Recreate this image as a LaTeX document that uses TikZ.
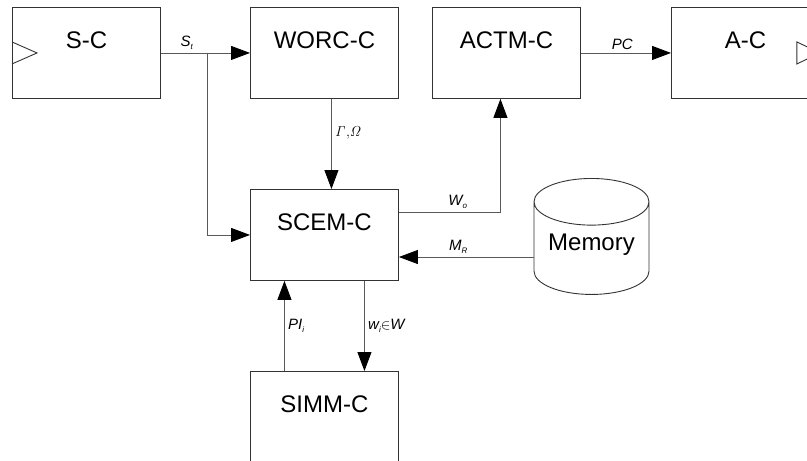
\documentclass[tikz,border=0pt]{standalone}
\usepackage[no-math]{fontspec}
\newfontfamily\arialfont{Liberation Sans}
\usetikzlibrary{positioning}
\usetikzlibrary{shapes.geometric}
\usetikzlibrary{arrows.meta}
\usetikzlibrary{calc}

% small lowered index for the signal names
\newcommand{\lsub}[1]{\raisebox{-3pt}{\fontsize{8}{8}\selectfont #1}}

\tikzset{
    block/.style={rectangle, draw=black!80, line width=0.9pt,
        minimum width=148pt, text height=41pt, text depth=50pt, inner ysep=0pt,
        font=\arialfont\fontsize{24}{24}\selectfont},
    store/.style={cylinder, shape border rotate=90, aspect=0.5, draw=black!80,
        line width=0.9pt, minimum width=115pt, minimum height=116pt,
        text height=17.5pt, text depth=21pt,
        font=\arialfont\fontsize{24}{24}\selectfont},
    link/.style={draw=black!65, line width=0.9pt},
    tip/.style={-{Triangle[length=19pt,width=14pt,color=black]}},
    lbl/.style={font=\arialfont\itshape\fontsize{15}{15}\selectfont, text=black}
}

\begin{document}
\begin{tikzpicture}[x=1pt,y=-1pt]
    \useasboundingbox (0,0) rectangle (807,461);

    % the controller blocks
    \node[block,anchor=north west] (sc) at (12,7) {S-C};
    \node[block,anchor=north west] (worc) at (250,7) {WORC-C};
    \node[block,anchor=north west] (actm) at (432,7) {ACTM-C};
    \node[block,anchor=north west] (ac) at (671,7) {A-C};
    \node[block,anchor=north west] (scem) at (250,189) {SCEM-C};
    \node[block,anchor=north west] (simm) at (250,371) {SIMM-C};

    % the memory
    \node[store,anchor=north] (mem) at (591.5,178) {Memory};

    % the little triangles on the outer blocks
    \draw[draw=black!80, line width=0.9pt] ([yshift=11pt]sc.west) -- ([xshift=25pt]sc.west) -- ([yshift=-11pt]sc.west);
    \draw[draw=black!80, line width=0.9pt] ([xshift=-23pt,yshift=11pt]ac.east) -- (ac.east) -- ([xshift=-23pt,yshift=-11pt]ac.east) -- cycle;

    % the arrows and labels
    \coordinate (st) at (207,52.5);
    \draw[link,tip] (sc.east) -- (worc.west) node[lbl,pos=0.29,above] {S\lsub{t}};
    \draw[link,tip] (st) |- (scem.west);
    \draw[link,tip] ([xshift=7pt]worc.south) -- ([xshift=7pt]scem.north)
        node[lbl,pos=0.38,right] {$\mathit{\Gamma}{,}\mathit{\Omega}$};
    \draw[link,tip] ([yshift=22.5pt]scem.east) -| ([xshift=-6pt]actm.south)
        node[lbl,pos=0.29,above] {W\lsub{o}};
    \draw[link,tip] (mem.west |- 0,257) -- (scem.east |- 0,257)
        node[lbl,pos=0.56,above] {M\lsub{R}};
    \draw[link,tip] (actm.east) -- (ac.west) node[lbl,pos=0.46,above] {PC};
    \draw[link,tip] ([xshift=-40pt]simm.north) -- ([xshift=-40pt]scem.south)
        node[lbl,pos=0.5,right] {PI\lsub{i}};
    \draw[link,tip] ([xshift=40pt]scem.south) -- ([xshift=40pt]simm.north)
        node[lbl,pos=0.5,right] {w\lsub{i}$\in$W};
\end{tikzpicture}
\end{document}
